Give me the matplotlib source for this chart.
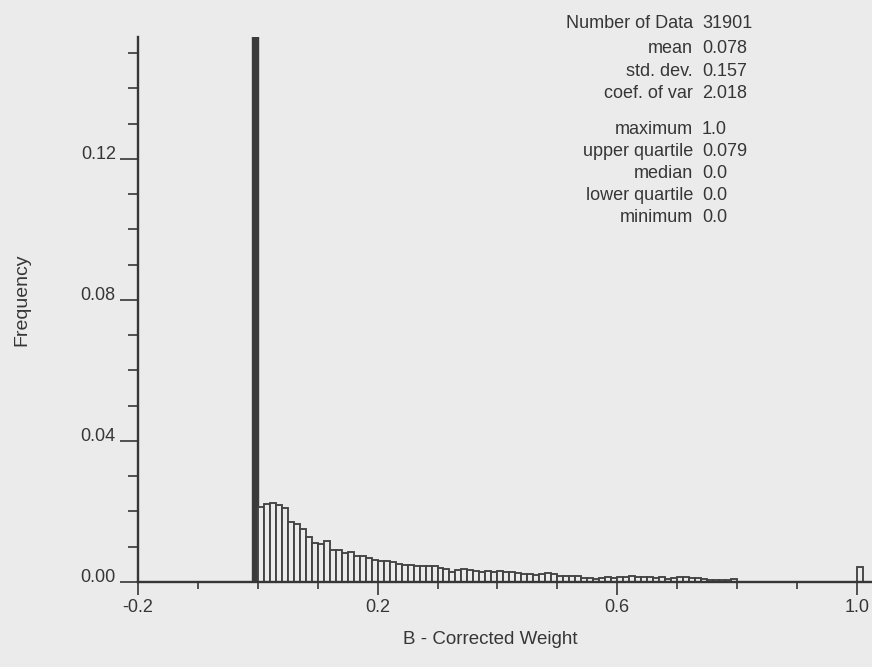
import numpy as np
import matplotlib
matplotlib.use('Agg')
from matplotlib import pyplot as plt

# histogram of corrected weights, bin width 0.01
zero_bin = 0.52   # clipped at the top of the plot
freq = [0.0213, 0.0220, 0.0223, 0.0218, 0.0209, 0.0169, 0.0164, 0.0151, 0.0128, 0.0112,
        0.0107, 0.0116, 0.0091, 0.0090, 0.0083, 0.0086, 0.0074, 0.0073, 0.0069, 0.0063,
        0.0060, 0.0059, 0.0058, 0.0050, 0.0047, 0.0047, 0.0046, 0.0046, 0.0046, 0.0046,
        0.0039, 0.0037, 0.0028, 0.0034, 0.0036, 0.0033, 0.0031, 0.0029, 0.0032, 0.0029,
        0.0030, 0.0029, 0.0028, 0.0026, 0.0024, 0.0023, 0.0019, 0.0024, 0.0026, 0.0022,
        0.0017, 0.0017, 0.0016, 0.0016, 0.0012, 0.0010, 0.0009, 0.0011, 0.0014, 0.0012,
        0.0015, 0.0015, 0.0016, 0.0014, 0.0013, 0.0014, 0.0010, 0.0013, 0.0009, 0.0012,
        0.0015, 0.0014, 0.0012, 0.0011, 0.0008, 0.0007, 0.0006, 0.0007, 0.0005, 0.0008]
one_bin = 0.0043
bin_width = 0.01

stat_names = ['Number of Data', 'mean', 'std. dev.', 'coef. of var',
              'maximum', 'upper quartile', 'median', 'lower quartile', 'minimum']
stat_values = ['31901', '0.078', '0.157', '2.018', '1.0', '0.079', '0.0', '0.0', '0.0']
stat_rows = [22, 47, 70, 92, 128, 150, 172, 194, 216]  # pixel rows from top

xticks = [-0.2, 0.2, 0.6, 1.0]
xlabels = ['-0.2', '0.2', '0.6', '1.0']
yticks = [0.0, 0.04, 0.08, 0.12]
ylabels = ['0.00', '0.04', '0.08', '0.12']

paper = '#ebebeb'
ink = '#363636'
plt.rcParams['font.family'] = ['Liberation Sans', 'DejaVu Sans']

W, H = 872, 667
fig = plt.figure(figsize=(W / 100, H / 100), dpi=100)
fig.patch.set_facecolor(paper)
ax = fig.add_axes([138 / W, 1 - 582 / H, 1 - 138 / W, (582 - 37) / H])
ax.set_facecolor(paper)

lefts = np.arange(len(freq)) * bin_width
ax.bar([-bin_width], [zero_bin], width=bin_width, align='edge',
       color='#3a3a3a', edgecolor='#3a3a3a', linewidth=1.0)
ax.bar(lefts, freq, width=bin_width, align='edge',
       color=paper, edgecolor='#434343', linewidth=1.35)
ax.bar([1.0], [one_bin], width=bin_width, align='edge',
       color=paper, edgecolor='#434343', linewidth=1.35)

ax.set_xlim(-0.2, -0.2 + (W - 138) / 599)
ax.set_ylim(0, 0.1546)

for s in ['top', 'right']:
    ax.spines[s].set_visible(False)
for s in ['left', 'bottom']:
    ax.spines[s].set_linewidth(1.7)
    ax.spines[s].set_color(ink)

ax.set_xticks(xticks)
ax.set_xticklabels(xlabels)
ax.set_xticks([-0.1, 0.0, 0.1, 0.3, 0.4, 0.5, 0.7, 0.8, 0.9], minor=True)
ax.set_yticks(yticks)
ax.set_yticklabels(ylabels)
ax.set_yticks([0.01, 0.02, 0.03, 0.05, 0.06, 0.07, 0.09, 0.10, 0.11, 0.13, 0.14, 0.15], minor=True)

ax.tick_params(axis='x', which='major', direction='out', length=9.5, width=1.2,
               color=ink, labelcolor=ink, labelsize=13, pad=3)
ax.tick_params(axis='x', which='minor', direction='out', length=5, width=1.2, color=ink)
ax.tick_params(axis='y', which='major', direction='out', length=13, width=1.2,
               color=ink, labelcolor=ink, labelsize=13, pad=3)
ax.tick_params(axis='y', which='minor', direction='out', length=7, width=1.2, color=ink)
for t in ax.get_yticklabels():
    t.set_verticalalignment('baseline')

ax.set_xlabel('B - Corrected Weight', fontsize=13.5, color=ink)
ax.xaxis.set_label_coords((490 - 138) / (W - 138), -(640 - 582) / (582 - 37))
ax.set_ylabel('Frequency', fontsize=14, color=ink)
ax.yaxis.set_label_coords(-(138 - 22) / (W - 138), (582 - 300) / (582 - 37))
ax.yaxis.label.set_verticalalignment('center')
ax.xaxis.label.set_verticalalignment('center')

for name, val, row in zip(stat_names, stat_values, stat_rows):
    fig.text(693 / W, 1 - (row + 6) / H, name, ha='right', va='baseline',
             fontsize=13, color=ink)
    fig.text(702 / W, 1 - (row + 6) / H, val, ha='left', va='baseline',
             fontsize=13, color=ink)

plt.savefig('out.png', dpi=100, facecolor=paper)
